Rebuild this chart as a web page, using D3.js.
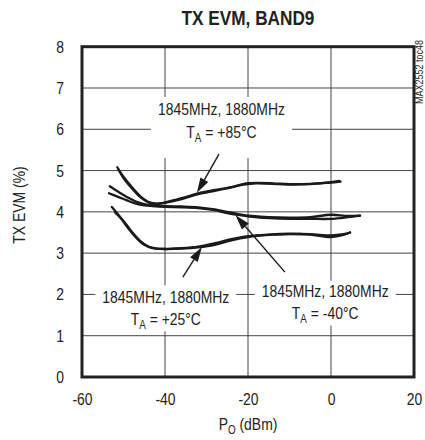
<!DOCTYPE html>
<html>
<head>
<meta charset="utf-8">
<script src="https://cdn.jsdelivr.net/npm/d3@7"></script>
<style>
  html, body { margin: 0; padding: 0; background: #fff; }
  svg { display: block; }
  text { font-family: "Liberation Sans", Arial, sans-serif; fill: #222; }
</style>
</head>
<body>
<svg id="chart" width="425" height="440"></svg>
<script>
// ---------------- data ----------------
const title = "TX EVM, BAND9";
const xTicks = [-60, -40, -20, 0, 20];
const yTicks = [0, 1, 2, 3, 4, 5, 6, 7, 8];

// 85°C curves
const p85a = [-51.5, -50, -48, -46, -44, -42, -40, -36, -32, -28, -24, -21, -18, -14, -10, -5, 0, 2];
const v85a = [5.08, 4.85, 4.6, 4.38, 4.24, 4.2, 4.23, 4.33, 4.45, 4.53, 4.6, 4.68, 4.7, 4.69, 4.67, 4.68, 4.72, 4.75];
const p85b = [-51.2, -50, -48, -46, -44, -42, -40, -36, -32, -28, -24, -21, -18, -14, -10, -5, 0, 2.3];
const v85b = [5.02, 4.82, 4.57, 4.36, 4.23, 4.19, 4.22, 4.31, 4.43, 4.51, 4.59, 4.66, 4.69, 4.68, 4.66, 4.67, 4.71, 4.73];

// -40°C curves
const pm40a = [-53.3, -51, -49, -47, -45, -43, -40, -36, -32, -28, -25, -22, -19, -15, -10, -5, 0, 4, 7];
const vm40a = [4.62, 4.47, 4.35, 4.25, 4.19, 4.16, 4.14, 4.13, 4.11, 4.06, 4.0, 3.94, 3.9, 3.87, 3.86, 3.87, 3.93, 3.9, 3.91];
const pm40b = [-53.5, -51, -49, -47, -45, -43, -40, -36, -32, -28, -25, -22, -19, -15, -10, -5, 0, 4, 7];
const vm40b = [4.45, 4.35, 4.27, 4.2, 4.16, 4.14, 4.12, 4.11, 4.09, 4.04, 3.97, 3.92, 3.88, 3.85, 3.83, 3.83, 3.83, 3.87, 3.91];

// +25°C curves
const p25a = [-52.8, -51, -49, -47, -45, -43, -40, -36, -32, -28, -24, -20, -15, -10, -5, 0, 3, 4.6];
const v25a = [4.12, 3.9, 3.62, 3.38, 3.2, 3.12, 3.1, 3.11, 3.14, 3.2, 3.31, 3.39, 3.44, 3.46, 3.46, 3.43, 3.46, 3.5];
const p25b = [-52, -50, -48, -46, -44, -42, -40, -36, -32, -28, -24, -20, -15, -10, -5, 0, 3, 4.6];
const v25b = [3.98, 3.78, 3.52, 3.3, 3.16, 3.11, 3.1, 3.12, 3.16, 3.24, 3.34, 3.41, 3.45, 3.47, 3.45, 3.39, 3.44, 3.5];

// annotation labels (data coordinates of first-line baseline centre)
const labelFreq = "1845MHz, 1880MHz";
const labelTemps = ["+85°C", "+25°C", "-40°C"];
const labelX = [-26.4, -39.8, -1.4];
const labelY = [6.34, 1.8, 1.94];

// arrows: tail -> head (data coordinates)
const arrowTailX = [-27.0, -35.7, -11.1];
const arrowTailY = [5.40, 2.42, 2.54];
const arrowHeadX = [-32.3, -31.1, -23.0];
const arrowHeadY = [4.46, 3.15, 3.92];

// ---------------- drawing ----------------
const SX = 0.82; // horizontal condensing of Liberation Sans
const svg = d3.select("#chart");
const svgBox = svg.node().getBoundingClientRect();
const pL = 82, pR = 414, pT = 46.7, pB = 377;
const x = d3.scaleLinear().domain([-60, 20]).range([pL, pR]);
const y = d3.scaleLinear().domain([0, 8]).range([pB, pT]);

function ctext(parent, px, py, rot) {
  return parent.append("text")
    .attr("transform", `translate(${px},${py})${rot ? " rotate(" + rot + ")" : ""} scale(${SX},1)`);
}

// title
ctext(svg, (pL + pR) / 2, 25).attr("text-anchor", "middle")
  .style("font-weight", "bold").style("font-size", "21px").text(title);

// grid
const grid = svg.append("g");
grid.selectAll("line.h").data(yTicks.slice(1, -1)).join("line")
  .attr("x1", pL).attr("x2", pR).attr("y1", d => y(d)).attr("y2", d => y(d))
  .attr("stroke", "#444").attr("stroke-width", 1);
grid.selectAll("line.v").data(xTicks.slice(1, -1)).join("line")
  .attr("y1", pT).attr("y2", pB).attr("x1", d => x(d)).attr("x2", d => x(d))
  .attr("stroke", "#444").attr("stroke-width", 1);

// axes
const xAxis = svg.append("g").attr("transform", `translate(0,${pB})`)
  .call(d3.axisBottom(x).tickValues(xTicks).tickSize(0).tickPadding(16).tickFormat(d => String(d)));
const yAxis = svg.append("g").attr("transform", `translate(${pL},0)`)
  .call(d3.axisLeft(y).tickValues(yTicks).tickSize(0).tickPadding(18).tickFormat(d => String(d)));
[xAxis, yAxis].forEach(a => {
  a.select(".domain").remove();
  a.attr("font-family", null).attr("font-size", null);
  a.selectAll("text").style("font-size", "17px").attr("fill", "#222");
});
xAxis.selectAll("text").attr("transform", `scale(${SX},1)`);
yAxis.selectAll("text").each(function () {
  const t = d3.select(this);
  const tx = +t.attr("x");
  t.attr("x", 0).attr("transform", `translate(${tx},0) scale(${SX},1)`);
});

// labels with white boxes
const labelPadBottom = [14, 0, 0];
const labelPadTop = [6, 5, 4];
labelX.forEach((lx, i) => {
  const g = svg.append("g");
  const rect = g.append("rect").attr("fill", "#fff");
  const t = ctext(g, x(lx), y(labelY[i])).attr("text-anchor", "middle").style("font-size", "17px");
  t.append("tspan").attr("x", 0).attr("y", 0).text(labelFreq);
  const l2 = t.append("tspan").attr("x", 0).attr("y", 22.5);
  l2.append("tspan").text("T");
  l2.append("tspan").attr("dy", 4).style("font-size", "12px").text("A");
  l2.append("tspan").attr("dy", -4).text(" = " + labelTemps[i]);
  const bb = t.node().getBoundingClientRect();
  const bx = bb.left - svgBox.left, by = bb.top - svgBox.top;
  rect.attr("x", bx - 7).attr("width", bb.width + 14)
    .attr("y", by + 3 - labelPadTop[i]).attr("height", bb.height - 3 + labelPadTop[i] + labelPadBottom[i]);
});

// curves
const line = d3.line().x(d => x(d[0])).y(d => y(d[1])).curve(d3.curveCatmullRom.alpha(0.5));
const series = [[p85a, v85a], [p85b, v85b], [pm40a, vm40a], [pm40b, vm40b], [p25a, v25a], [p25b, v25b]];
svg.append("g").selectAll("path").data(series).join("path")
  .attr("d", s => line(s[0].map((p, k) => [p, s[1][k]])))
  .attr("fill", "none").attr("stroke", "#1a1a1a").attr("stroke-width", 2.3)
  .attr("stroke-linecap", "round").attr("stroke-linejoin", "round");

// arrows
const ag = svg.append("g");
arrowTailX.forEach((tx, i) => {
  const x0 = x(tx), y0 = y(arrowTailY[i]), x1 = x(arrowHeadX[i]), y1 = y(arrowHeadY[i]);
  const ang = Math.atan2(y1 - y0, x1 - x0);
  const L = 15, W = 4.5;
  const bx = x1 - L * Math.cos(ang), by = y1 - L * Math.sin(ang);
  ag.append("line").attr("x1", x0).attr("y1", y0).attr("x2", bx).attr("y2", by)
    .attr("stroke", "#1a1a1a").attr("stroke-width", 1.4);
  const px = -Math.sin(ang) * W, py = Math.cos(ang) * W;
  ag.append("path")
    .attr("d", `M${x1},${y1}L${bx + px},${by + py}L${bx - px},${by - py}Z`)
    .attr("fill", "#1a1a1a");
});

// frame
svg.append("rect").attr("x", pL).attr("y", pT).attr("width", pR - pL).attr("height", pB - pT)
  .attr("fill", "none").attr("stroke", "#222").attr("stroke-width", 3);

// axis titles
ctext(svg, 25, 205, -90).attr("text-anchor", "middle").style("font-size", "17px").text("TX EVM (%)");
const xt = ctext(svg, (pL + pR) / 2, 430).attr("text-anchor", "middle").style("font-size", "17px");
xt.append("tspan").text("P");
xt.append("tspan").attr("dy", 4).style("font-size", "12px").text("O");
xt.append("tspan").attr("dy", -4).text(" (dBm)");

// side code
ctext(svg, 423, 72, -90).attr("text-anchor", "middle").style("font-size", "11px").attr("fill", "#444")
  .text("MAX2552 toc48");
</script>
</body>
</html>
